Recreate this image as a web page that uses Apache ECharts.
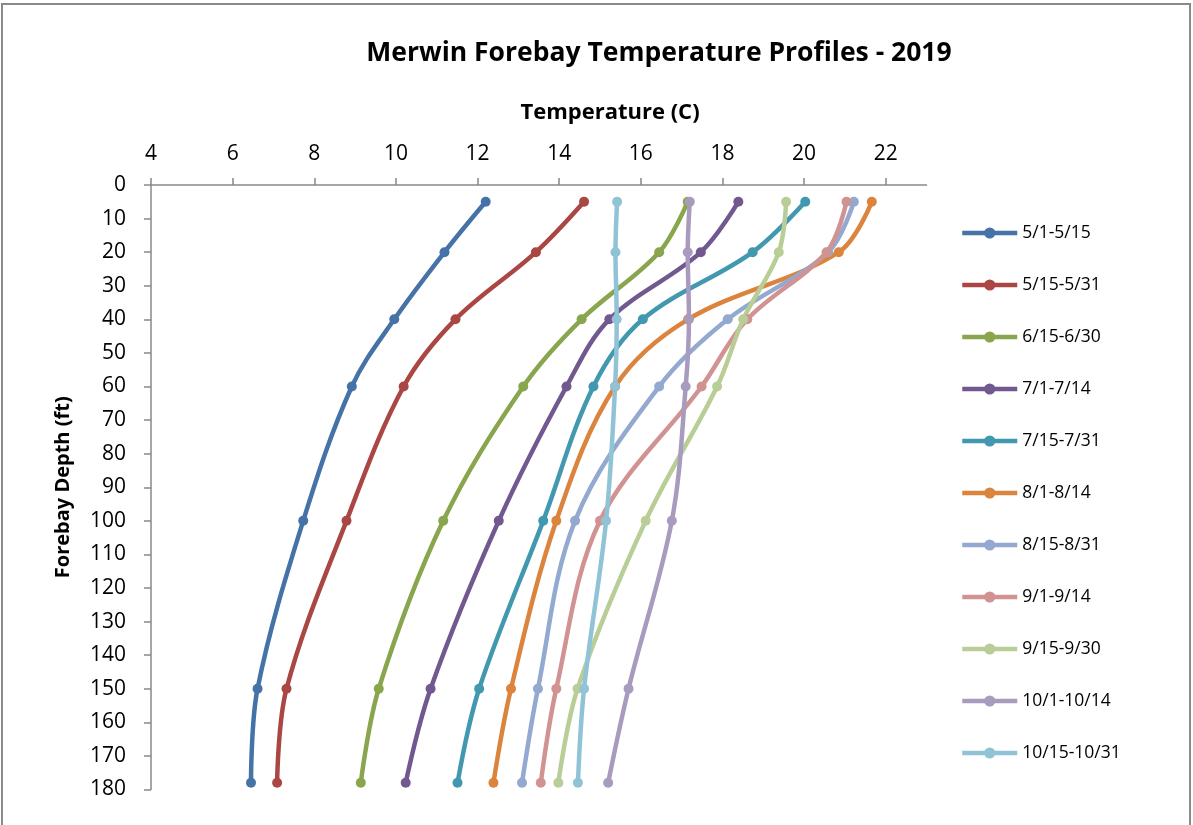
<!DOCTYPE html>
<html>
<head>
<meta charset="utf-8">
<script src="https://cdn.jsdelivr.net/npm/echarts@6/dist/echarts.min.js"></script>
<style>
  html, body { margin: 0; padding: 0; background: #ffffff; }
  #chart { width: 1193px; height: 825px; }
</style>
</head>
<body>
<div id="chart"></div>
<script>
// Sampling depths (ft) shared by every profile
const depths = [5, 20, 40, 60, 100, 150, 178];

// Temperature (C) at each depth, one array per period
const may1to15   = [12.20, 11.19, 9.96, 8.92, 7.73, 6.61, 6.45];
const may15to31  = [14.61, 13.43, 11.46, 10.19, 8.79, 7.32, 7.09];
const jun15to30  = [17.15, 16.45, 14.55, 13.12, 11.16, 9.58, 9.14];
const jul1to14   = [18.39, 17.47, 15.23, 14.18, 12.52, 10.85, 10.24];
const jul15to31  = [20.03, 18.74, 16.05, 14.84, 13.61, 12.04, 11.51];
const aug1to14   = [21.66, 20.85, 17.16, 15.37, 13.93, 12.82, 12.39];
const aug15to31  = [21.22, 20.59, 18.13, 16.45, 14.39, 13.48, 13.09];
const sep1to14   = [21.04, 20.55, 18.61, 17.49, 15.00, 13.93, 13.55];
const sep15to30  = [19.56, 19.38, 18.51, 17.87, 16.12, 14.45, 13.98];
const oct1to14   = [17.20, 17.15, 17.18, 17.10, 16.76, 15.70, 15.20];
const oct15to31  = [15.42, 15.38, 15.41, 15.37, 15.15, 14.61, 14.46];

const seriesNames = ['5/1-5/15', '5/15-5/31', '6/15-6/30', '7/1-7/14', '7/15-7/31',
  '8/1-8/14', '8/15-8/31', '9/1-9/14', '9/15-9/30', '10/1-10/14', '10/15-10/31'];
const seriesValues = [may1to15, may15to31, jun15to30, jul1to14, jul15to31,
  aug1to14, aug15to31, sep1to14, sep15to30, oct1to14, oct15to31];
const seriesColors = ['#4572A7', '#AA4643', '#89A54E', '#71588F', '#4198AF',
  '#DB843D', '#93A9CF', '#D19392', '#B9CD96', '#A99BBD', '#91C3D6'];

// Axis tick labels
const tempTicks = [4, 6, 8, 10, 12, 14, 16, 18, 20, 22];
const depthTicks = [0, 10, 20, 30, 40, 50, 60, 70, 80, 90, 100, 110, 120, 130, 140, 150, 160, 170, 180];

const FONT = '"Open Sans", "Noto Sans", sans-serif';
const AXIS_GRAY = '#898989';

const chart = echarts.init(document.getElementById('chart'), null, { renderer: 'canvas' });

const series = seriesNames.map((name, i) => ({
  name: name,
  type: 'line',
  data: seriesValues[i].map((t, k) => [t, depths[k]]),
  smooth: 0.35,
  symbol: 'circle',
  symbolSize: 10,
  lineStyle: { width: 4.5, color: seriesColors[i] },
  itemStyle: { color: seriesColors[i] },
  emphasis: { disabled: true }
}));

chart.setOption({
  animation: false,
  color: seriesColors,
  title: [
    {
      text: 'Merwin Forebay Temperature Profiles - 2019',
      left: 654, top: 35, textAlign: 'center',
      textStyle: { fontFamily: FONT, fontSize: 26.5, fontWeight: 'bold', color: '#000' }
    },
    {
      text: 'Temperature (C)',
      left: 605, top: 97, textAlign: 'center',
      textStyle: { fontFamily: FONT, fontSize: 22, fontWeight: 'bold', color: '#000' }
    }
  ],
  graphic: [{
    type: 'rect',
    shape: { x: 2, y: 4, width: 1188, height: 840 },
    style: { fill: 'none', stroke: '#8a8a8a', lineWidth: 2 },
    silent: true
  }],
  grid: { left: 151, top: 185, right: 266.5, bottom: 35.5, containLabel: false },
  legend: {
    orient: 'vertical',
    left: 955, top: 219,
    itemWidth: 55, itemHeight: 14, itemGap: 34,
    data: seriesNames,
    lineStyle: { width: 4.5 },
    itemStyle: { borderWidth: 0 },
    textStyle: { fontFamily: FONT, fontSize: 17.5, color: '#000', lineHeight: 14 },
    selectedMode: false
  },
  xAxis: {
    type: 'value', position: 'top',
    min: 4, max: 23, interval: 2,
    axisLine: { show: true, lineStyle: { color: AXIS_GRAY, width: 1.5 } },
    axisTick: { show: true, length: 7, customValues: tempTicks, lineStyle: { color: AXIS_GRAY, width: 1.5 } },
    axisLabel: { customValues: tempTicks, margin: 20, fontFamily: FONT, fontSize: 21, color: '#000' },
    splitLine: { show: false }
  },
  yAxis: {
    type: 'value', inverse: true,
    min: 0, max: 180, interval: 10,
    name: 'Forebay Depth (ft)', nameLocation: 'middle', nameRotate: 90, nameGap: 78,
    nameTextStyle: { fontFamily: FONT, fontSize: 20, fontWeight: 'bold', color: '#000' },
    axisLine: { show: true, lineStyle: { color: AXIS_GRAY, width: 1.5 } },
    axisTick: { show: true, length: 7, customValues: depthTicks, lineStyle: { color: AXIS_GRAY, width: 1.5 } },
    axisLabel: { customValues: depthTicks, margin: 25, fontFamily: FONT, fontSize: 21, color: '#000' },
    splitLine: { show: false }
  },
  series: series
});
</script>
</body>
</html>
